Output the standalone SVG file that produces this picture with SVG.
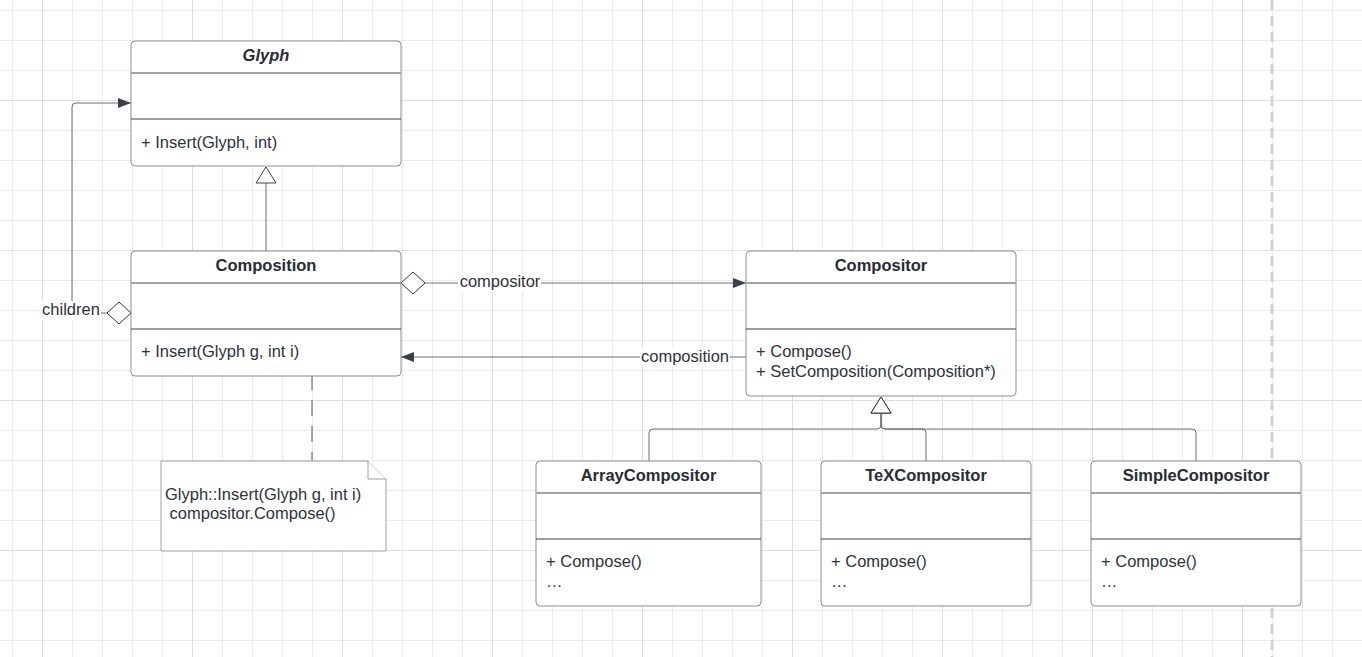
<svg xmlns="http://www.w3.org/2000/svg" width="1362" height="657" viewBox="0 0 1362 657">
<style>
.box{fill:#fff;stroke:#8e8e8e;stroke-width:1}
.hdiv{stroke:#a3a3a3;stroke-width:2}
.mdiv{stroke:#3d3d3d;stroke-width:1}
.title{font-family:"Liberation Sans",Arial,sans-serif;font-size:16.5px;font-weight:bold;fill:#282c34;text-anchor:middle}
.mem{font-family:"Liberation Sans",Arial,sans-serif;font-size:16.5px;fill:#2e323a}
.lbl{font-family:"Liberation Sans",Arial,sans-serif;font-size:16.5px;fill:#2e323a;text-anchor:middle}
.conn{fill:none;stroke:#6e6e6e;stroke-width:1}
.note{fill:#fff;stroke:#a0a0a0;stroke-width:1}
</style>
<defs>
<pattern id="minor" width="30" height="30" x="12" y="10" patternUnits="userSpaceOnUse">
<path d="M0.5 0V30M0 0.5H30" fill="none" stroke="#ebebeb" stroke-width="1"/>
</pattern>
<pattern id="major" width="150" height="150" x="42" y="100" patternUnits="userSpaceOnUse">
<path d="M0.5 0V150M0 0.5H150" fill="none" stroke="#dedede" stroke-width="1"/>
</pattern>
<marker id="arrow" viewBox="0 0 13 10" refX="13" refY="5" markerWidth="13" markerHeight="10" orient="auto" markerUnits="userSpaceOnUse">
<path d="M0,0 L13,5 L0,10 z" fill="#3a4049"/>
</marker>
<marker id="diamond" viewBox="-1 -1 26 24" refX="0" refY="11" markerWidth="26" markerHeight="24" orient="auto" markerUnits="userSpaceOnUse">
<path d="M0,11 L12,0 L24,11 L12,22 z" fill="#fff" stroke="#333" stroke-width="1"/>
</marker>
<marker id="gen" viewBox="-1 -1 18 22" refX="16" refY="10" markerWidth="18" markerHeight="22" orient="auto" markerUnits="userSpaceOnUse">
<path d="M0,0 L16,10 L0,20 z" fill="#fff" stroke="#444" stroke-width="1"/>
</marker>
</defs>
<rect width="1362" height="657" fill="#fff"/>
<rect width="1362" height="657" fill="url(#minor)"/>
<rect width="1362" height="657" fill="url(#major)"/>
<path d="M1272 0V657" stroke="#d2d2d2" stroke-width="3" stroke-dasharray="10 6"/>

<g id="connectors">
<path class="conn" d="M266 251V167" marker-end="url(#gen)"/>
<path class="conn" d="M131 313H76Q72 313 72 309V107Q72 103 76 103H131" marker-start="url(#diamond)" marker-end="url(#arrow)"/>
<rect x="41" y="301" width="60" height="19" fill="#fff"/>
<text class="lbl" x="71" y="315">children</text>
<path class="conn" d="M401 283H746" marker-start="url(#diamond)" marker-end="url(#arrow)"/>
<rect x="458" y="273" width="83" height="19" fill="#fff"/>
<text class="lbl" x="500" y="287">compositor</text>
<path class="conn" d="M746 357H401" marker-end="url(#arrow)"/>
<rect x="640" y="347" width="90" height="19" fill="#fff"/>
<text class="lbl" x="685" y="362">composition</text>
<path class="conn" d="M649 461V433Q649 429 653 429H877Q881 429 881 425V397" marker-end="url(#gen)"/>
<path class="conn" d="M926 461V433Q926 429 922 429H885Q881 429 881 425V397" marker-end="url(#gen)"/>
<path class="conn" d="M1196 461V433Q1196 429 1192 429H885Q881 429 881 425V397" marker-end="url(#gen)"/>
<path d="M312 348V461" fill="none" stroke="#555" stroke-width="1" stroke-dasharray="16 10"/>
</g>

<g id="glyph">
<rect class="box" x="131" y="41" width="270" height="125" rx="4"/>
<line class="hdiv" x1="131" y1="73" x2="401" y2="73"/>
<line class="mdiv" x1="131" y1="119" x2="401" y2="119"/>
<text class="title" x="266" y="61" font-style="italic">Glyph</text>
<text class="mem" x="141" y="148">+ Insert(Glyph, int)</text>
</g>

<g id="composition">
<rect class="box" x="131" y="251" width="270" height="125" rx="4"/>
<line class="hdiv" x1="131" y1="283" x2="401" y2="283"/>
<line class="mdiv" x1="131" y1="329" x2="401" y2="329"/>
<text class="title" x="266" y="271">Composition</text>
<text class="mem" x="141" y="357">+ Insert(Glyph g, int i)</text>
</g>

<g id="compositor">
<rect class="box" x="746" y="251" width="270" height="145" rx="4"/>
<line class="hdiv" x1="746" y1="283" x2="1016" y2="283"/>
<line class="mdiv" x1="746" y1="329" x2="1016" y2="329"/>
<text class="title" x="881" y="271">Compositor</text>
<text class="mem" x="756" y="357">+ Compose()</text>
<text class="mem" x="756" y="377">+ SetComposition(Composition*)</text>
</g>

<g id="arraycompositor">
<rect class="box" x="536" y="461" width="225" height="145" rx="4"/>
<line class="hdiv" x1="536" y1="493" x2="761" y2="493"/>
<line class="mdiv" x1="536" y1="539" x2="761" y2="539"/>
<text class="title" x="648.5" y="481">ArrayCompositor</text>
<text class="mem" x="546" y="567">+ Compose()</text>
<text class="mem" x="546" y="587">…</text>
</g>

<g id="texcompositor">
<rect class="box" x="821" y="461" width="210" height="145" rx="4"/>
<line class="hdiv" x1="821" y1="493" x2="1031" y2="493"/>
<line class="mdiv" x1="821" y1="539" x2="1031" y2="539"/>
<text class="title" x="926" y="481">TeXCompositor</text>
<text class="mem" x="831" y="567">+ Compose()</text>
<text class="mem" x="831" y="587">…</text>
</g>

<g id="simplecompositor">
<rect class="box" x="1091" y="461" width="210" height="145" rx="4"/>
<line class="hdiv" x1="1091" y1="493" x2="1301" y2="493"/>
<line class="mdiv" x1="1091" y1="539" x2="1301" y2="539"/>
<text class="title" x="1196" y="481">SimpleCompositor</text>
<text class="mem" x="1101" y="567">+ Compose()</text>
<text class="mem" x="1101" y="587">…</text>
</g>

<g id="note">
<path class="note" d="M161 461H368L386 479V551H161Z"/>
<path class="note" d="M368 461V479H386" fill="none"/>
<text class="mem" x="165" y="500">Glyph::Insert(Glyph g, int i)</text>
<text class="mem" x="165" y="519" xml:space="preserve"> compositor.Compose()</text>
</g>
</svg>
